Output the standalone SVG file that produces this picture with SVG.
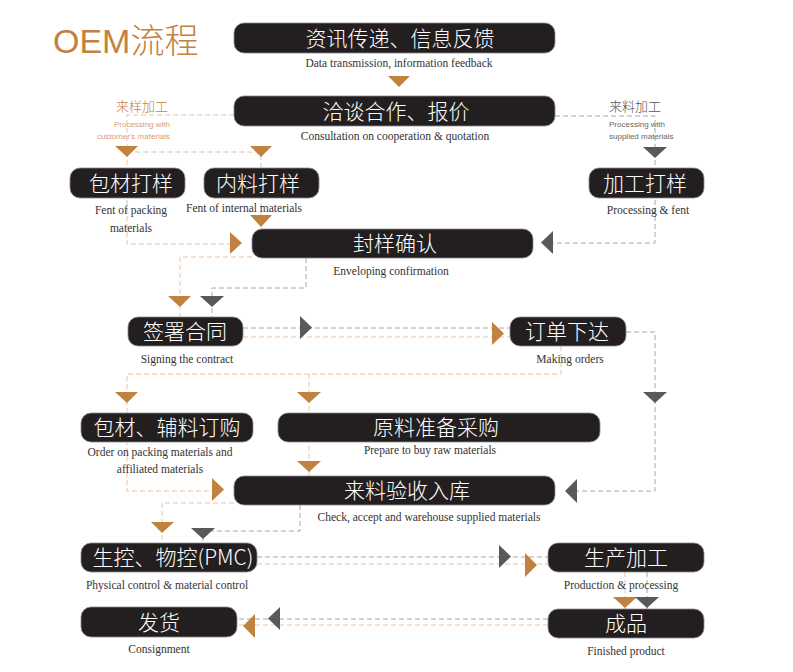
<svg xmlns="http://www.w3.org/2000/svg" width="793" height="672" viewBox="0 0 793 672">
<style>
.node rect{fill:#231f20;stroke:#8a8a8a;stroke-width:0.8}
.zh{font-family:"Noto Sans CJK SC","Liberation Sans",sans-serif;font-size:21px;font-weight:300;fill:#ffffff;text-anchor:middle}
.en{font-family:"Liberation Serif",serif;font-size:11.5px;fill:#333333;text-anchor:middle}
.od{fill:none;stroke:#efc39c;stroke-width:1;stroke-dasharray:5,3}
.gd{fill:none;stroke:#a8a8a8;stroke-width:1;stroke-dasharray:5,3}
.ot{fill:#c2823f}
.gt{fill:#58595b}
.side{font-family:"Noto Sans CJK SC","Liberation Sans",sans-serif;font-size:13px;font-weight:300}
.small{font-family:"Liberation Sans",sans-serif;font-size:8px}
</style>
<rect width="793" height="672" fill="#ffffff"/>
<text x="53" y="53" font-family="Liberation Sans,Noto Sans CJK SC,sans-serif" font-size="34" fill="#c4803f">OEM<tspan font-family="Noto Sans CJK SC,sans-serif" font-weight="300">流程</tspan></text>

<g id="labels">
<text class="side" x="142" y="111" fill="#c4803f" text-anchor="middle">来样加工</text>
<text class="small" x="170" y="127" fill="#d9a06a" text-anchor="end">Processing with</text>
<text class="small" x="170" y="139" fill="#d9a06a" text-anchor="end">customer's materials</text>
<text class="side" x="609" y="111" fill="#555555">来料加工</text>
<text class="small" x="609" y="127" fill="#666666">Processing with</text>
<text class="small" x="609" y="139" fill="#666666">supplied materials</text>
</g>

<g id="connectors">
<path class="od" d="M234,115 H127 V244 H230"/>
<path class="od" d="M127,152 H261"/>
<path class="od" d="M261,147 V229"/>
<path class="gd" d="M555,116 H655 V243 H553"/>
<path class="od" d="M252,257 H180 V317"/>
<path class="gd" d="M306,258 V288 H212 V317"/>
<path class="gd" d="M243,328 H510"/>
<path class="od" d="M243,337 H510"/>
<path class="gd" d="M626,332 H655 V491 H577"/>
<path class="od" d="M561,346 V374 H127 V491 H212"/>
<path class="od" d="M309,374 V476"/>
<path class="od" d="M234,503 H162 V543"/>
<path class="gd" d="M300,505 V531 H203 V543"/>
<path class="gd" d="M257,557 H548"/>
<path class="od" d="M257,564 H548"/>
<path class="od" d="M625,572 V609"/>
<path class="gd" d="M647,572 V609"/>
<path class="gd" d="M548,619 H237"/>
<path class="od" d="M548,625 H237"/>
<polygon class="ot" points="388,76 410,76 399,87"/>
<polygon class="ot" points="115,146 138,146 127,157"/>
<polygon class="ot" points="250,146 272,146 261,157"/>
<polygon class="gt" points="643,147 667,147 655,158"/>
<polygon class="ot" points="230,232 230,254 242,243"/>
<polygon class="ot" points="250,215 272,215 261,227"/>
<polygon class="gt" points="553,231 553,254 541,242.5"/>
<polygon class="ot" points="168,296 191,296 180,307"/>
<polygon class="gt" points="200,296 224,296 212,307"/>
<polygon class="gt" points="300,316 300,339 312,327.5"/>
<polygon class="ot" points="492,322 492,345 504,333.5"/>
<polygon class="gt" points="643,392 667,392 655,403"/>
<polygon class="gt" points="577,479 577,503 565,491"/>
<polygon class="ot" points="115,392 138,392 127,403"/>
<polygon class="ot" points="297,392 321,392 309,403"/>
<polygon class="ot" points="297,461 321,461 309,472"/>
<polygon class="ot" points="212,478 212,501 224,489.5"/>
<polygon class="ot" points="151,522 174,522 162,533"/>
<polygon class="gt" points="191,528 215,528 203,539"/>
<polygon class="gt" points="499,545 499,568 511,556.5"/>
<polygon class="ot" points="525,553 525,577 537,565"/>
<polygon class="ot" points="613,597 637,597 625,608"/>
<polygon class="gt" points="635,597 659,597 647,608"/>
<polygon class="gt" points="280,607 280,630 268,618.5"/>
<polygon class="ot" points="255,614 255,638 243,626"/>
</g>

<g id="n1" class="node"><rect x="234" y="23" width="321" height="30" rx="10"/><text class="zh" x="400" y="45.5">资讯传递、信息反馈</text><text class="en" x="399" y="67">Data transmission, information feedback</text></g>
<g id="n2" class="node"><rect x="234" y="96" width="321" height="30" rx="10"/><text class="zh" x="396" y="118.5">洽谈合作、报价</text><text class="en" x="395" y="140">Consultation on cooperation &amp; quotation</text></g>
<g id="n3" class="node"><rect x="70" y="168" width="115" height="30" rx="10"/><text class="zh" x="131" y="190.5">包材打样</text><text class="en" x="131" y="214">Fent of packing</text><text class="en" x="131" y="232">materials</text></g>
<g id="n4" class="node"><rect x="204" y="168" width="115" height="30" rx="10"/><text class="zh" x="258" y="190.5">内料打样</text><text class="en" x="244" y="212">Fent of internal materials</text></g>
<g id="n5" class="node"><rect x="589" y="168" width="115" height="30" rx="10"/><text class="zh" x="645" y="190.5">加工打样</text><text class="en" x="648" y="214">Processing &amp; fent</text></g>
<g id="n6" class="node"><rect x="252" y="229" width="281" height="29" rx="10"/><text class="zh" x="395" y="251">封样确认</text><text class="en" x="391" y="275">Enveloping confirmation</text></g>
<g id="n7" class="node"><rect x="128" y="317" width="115" height="29" rx="10"/><text class="zh" x="185" y="339">签署合同</text><text class="en" x="187" y="363">Signing the contract</text></g>
<g id="n8" class="node"><rect x="510" y="317" width="116" height="29" rx="10"/><text class="zh" x="567" y="339">订单下达</text><text class="en" x="570" y="363">Making orders</text></g>
<g id="n9" class="node"><rect x="81" y="413" width="172" height="29" rx="10"/><text class="zh" x="167" y="435">包材、辅料订购</text><text class="en" x="160" y="456">Order on packing materials and</text><text class="en" x="160" y="473">affiliated materials</text></g>
<g id="n10" class="node"><rect x="278" y="413" width="322" height="29" rx="10"/><text class="zh" x="436" y="435">原料准备采购</text><text class="en" x="430" y="454">Prepare to buy raw materials</text></g>
<g id="n11" class="node"><rect x="234" y="476" width="321" height="29" rx="10"/><text class="zh" x="407" y="498">来料验收入库</text><text class="en" x="429" y="521">Check, accept and warehouse supplied materials</text></g>
<g id="n12" class="node"><rect x="81" y="543" width="176" height="29" rx="10"/><text class="zh" x="173" y="565">生控、物控(PMC)</text><text class="en" x="167" y="589">Physical control &amp; material control</text></g>
<g id="n13" class="node"><rect x="548" y="543" width="156" height="29" rx="10"/><text class="zh" x="626" y="565">生产加工</text><text class="en" x="621" y="589">Production &amp; processing</text></g>
<g id="n14" class="node"><rect x="548" y="609" width="156" height="29" rx="10"/><text class="zh" x="626" y="631">成品</text><text class="en" x="626" y="655">Finished product</text></g>
<g id="n15" class="node"><rect x="81" y="607" width="156" height="30" rx="10"/><text class="zh" x="159" y="629.5">发货</text><text class="en" x="159" y="653">Consignment</text></g>
</svg>
